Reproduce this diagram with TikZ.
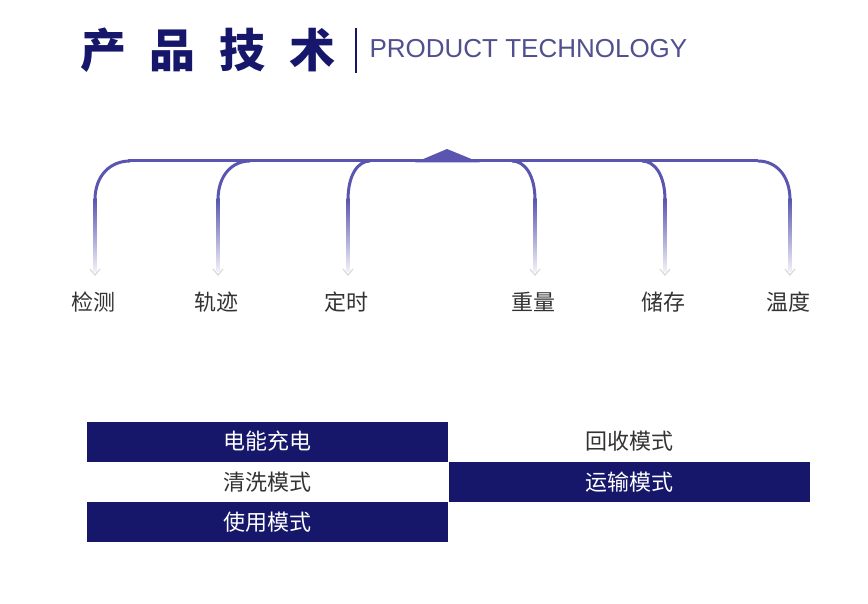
\documentclass[tikz,border=0pt]{standalone}
\usepackage{fontspec}
\setmainfont{Noto Sans CJK SC}
\newfontfamily\latinfont{Liberation Sans}
\usetikzlibrary{positioning}
\definecolor{navy}{HTML}{16166A}
\definecolor{linec}{HTML}{5A56B0}
\definecolor{fadec}{HTML}{F2F2F8}
\tikzset{
  branch/.style={draw=linec,line width=3pt},
  label/.style={font=\fontsize{22}{22}\selectfont,text=black!80},
  bluebox/.style={fill=navy,text=white,minimum width=361pt,minimum height=40pt,inner sep=0pt,font=\fontsize{22}{22}\selectfont},
  whitebox/.style={text=black!80,minimum width=361pt,minimum height=40pt,inner sep=0pt,font=\fontsize{22}{22}\selectfont}
}
\begin{document}
\begin{tikzpicture}[x=1pt,y=-1pt]
\useasboundingbox (0,0) rectangle (868,604);
% title
\node (Title) at (208,50) {\fontsize{46}{46}\selectfont\bfseries\color{navy}产\hspace{24pt}品\hspace{24pt}技\hspace{24pt}术};
\draw[navy,line width=1.2pt] (356,28) -- (356,73);
\node[anchor=west] (Sub) at (366,49) {\latinfont\fontsize{26}{26}\selectfont\color{navy!75}PRODUCT TECHNOLOGY};
% main bar
\coordinate (BarL) at (128,161);
\coordinate (BarR) at (758,161);
\draw[branch] (BarL) -- (BarR);
\fill[linec] (415,162.5) -- (447,149) -- (480,162.5) -- cycle;
% branches: start on bar / end x / text
\foreach \sx/\ex/\txt [count=\i] in {130/95/检测,250/218/轨迹,370/348/定时,512/535/重量,642/665/储存,758/790/温度}{
  \coordinate (S\i) at (\sx,161);
  \coordinate (E\i) at (\ex,200);
  \draw[branch] (S\i) .. controls ({(\sx+\ex)/2-0.05*(\sx-\ex)},161) and (\ex,175) .. (E\i);
  \shade[top color=linec,bottom color=fadec] (\ex-1.5,199) rectangle (\ex+1.5,272);
  \draw[black!15,line width=1.2pt] (\ex-5,269) -- (\ex,275) -- (\ex+5,269);
  \node[label] (L\i) at (\ex-2,302) {\txt};
}
% modes
\node[bluebox] (Charge) at (267.5,441.5) {电能充电};
\node[whitebox,below=0pt of Charge] (Wash) {清洗模式};
\node[bluebox,below=0pt of Wash] (Use) {使用模式};
\node[whitebox,right=1pt of Charge] (Recycle) {回收模式};
\node[bluebox,below=0pt of Recycle] (Carry) {运输模式};
\end{tikzpicture}
\end{document}
